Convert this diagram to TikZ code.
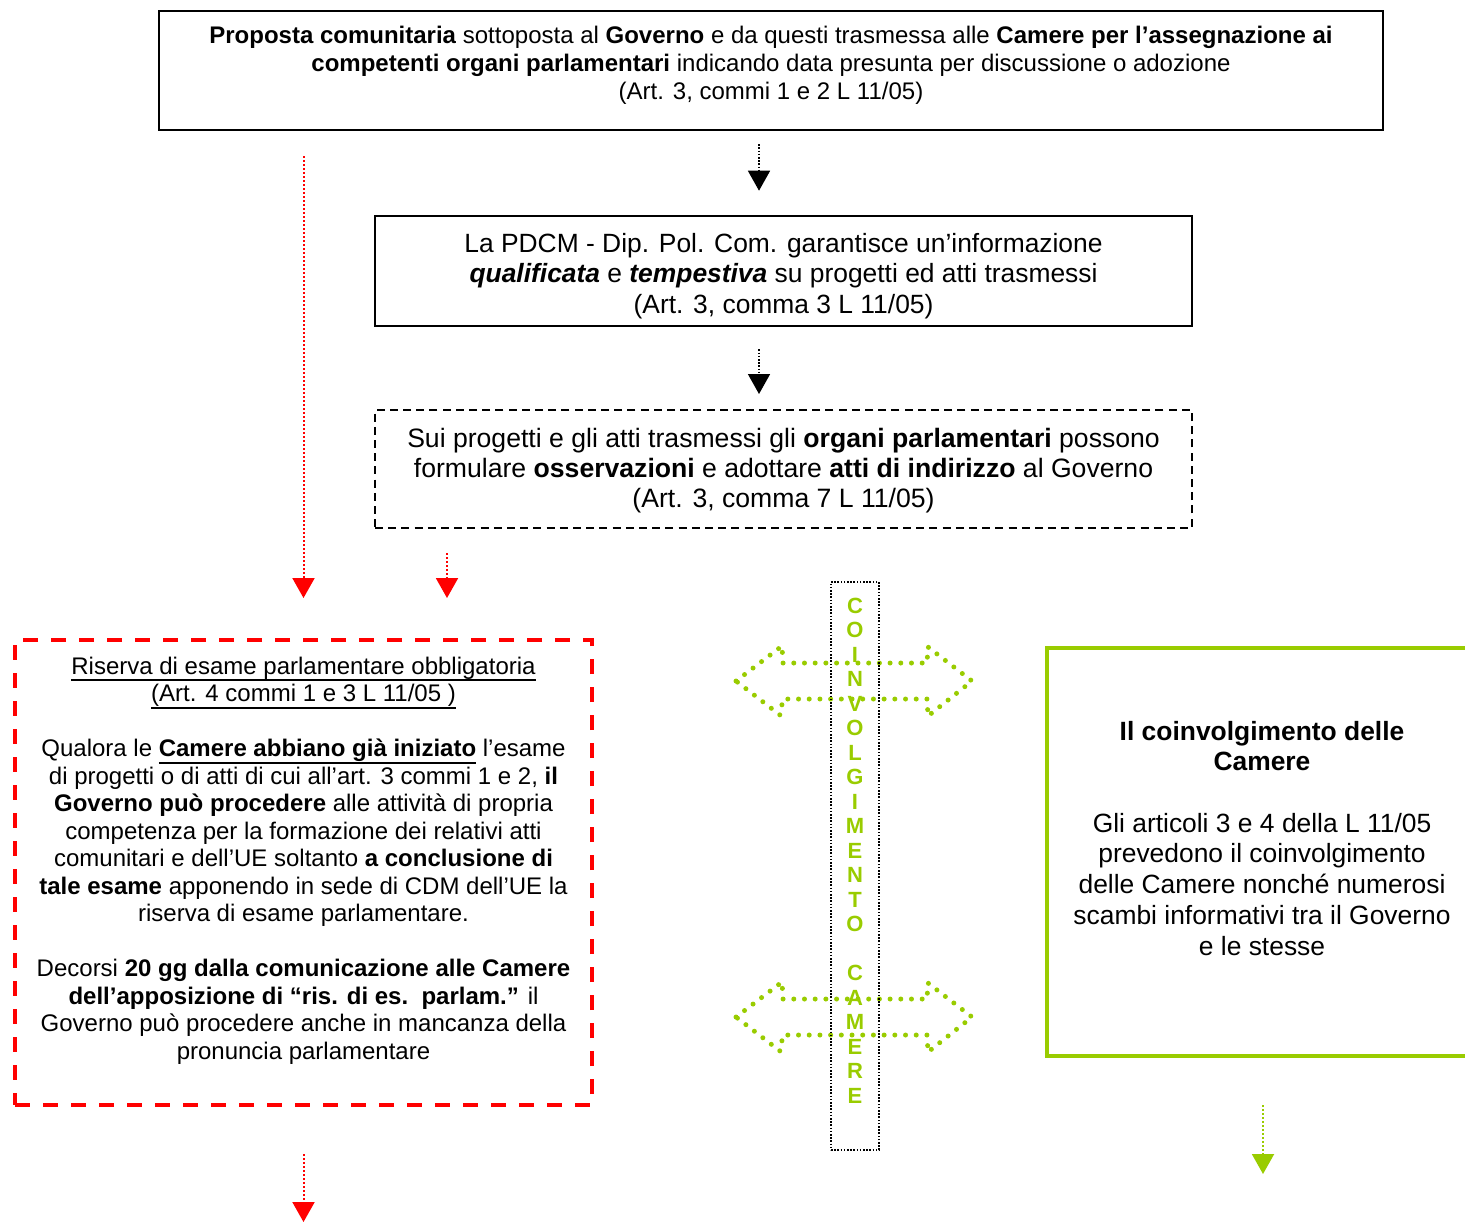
\documentclass[tikz,border=0pt]{standalone}
\usepackage{fontspec}
\setmainfont{Liberation Sans}
\usetikzlibrary{arrows.meta,positioning}
\definecolor{rosso}{HTML}{FF0000}
\definecolor{verde}{HTML}{99CC00}
% text pinned to the top of a fixed box: height, width, top pad, text
\newcommand{\padtext}[4]{\parbox[c][#1][t]{#2}{\centering\vspace*{#3}#4}}
% underline at a fixed depth
\newcommand{\sott}[1]{\leavevmode\setbox0\hbox{#1}\rlap{\rule[-3.4pt]{\wd0}{0.9pt}}\box0\relax}
\tikzset{
  box/.style={draw=black,line width=1.1pt,inner sep=0pt,align=center},
  dbox/.style={box,line width=1pt,dash pattern=on 4pt off 2.6pt},
  rbox/.style={box,draw=rosso,line width=2pt,dash pattern=on 7.5pt off 6.5pt},
  gbox/.style={box,draw=verde,line width=2pt},
  cbox/.style={box,line width=0.8pt,dash pattern=on 0.8pt off 0.8pt},
  darr/.style={-{Triangle[length=10pt,width=11pt]},line width=0.8pt,dash pattern=on 0.8pt off 0.8pt},
  rarr/.style={darr,draw=rosso,line width=1pt,dash pattern=on 1pt off 1pt},
  garr/.style={darr,draw=verde,line width=1pt,dash pattern=on 1pt off 1pt},
  gdots/.style={draw=verde,line width=2.5pt,line cap=round,dash pattern=on 0pt off 5.35pt},
  fA/.style={font=\fontsize{12}{14}\selectfont},
  fB/.style={font=\fontsize{13.2}{15.4}\selectfont},
  fC/.style={font=\fontsize{13.3}{15}\selectfont},
  fD/.style={font=\fontsize{12}{13.75}\selectfont},
}
\begin{document}
\begin{tikzpicture}[x=0.5pt,y=-0.5pt]
\useasboundingbox (0,0) rectangle (1465,1223);
% boxes
\node[box,fA] (prop) at (771,70.5) {\padtext{59.5pt}{612pt}{7.75pt}{%
  \textbf{Proposta comunitaria} sottoposta al \textbf{Governo} e da questi trasmessa alle \textbf{Camere per l’assegnazione ai}\\
  \textbf{competenti organi parlamentari} indicando data presunta per discussione o adozione\\
  (Art. 3, commi 1 e 2 L 11/05)}};
\node[box,fB,line width=1.3pt] (info) at (783.5,271) {\padtext{55pt}{408.5pt}{8.5pt}{%
  La PDCM - Dip. Pol. Com. garantisce un’informazione\\
  \textbf{\textit{qualificata}} e \textbf{\textit{tempestiva}} su progetti ed atti trasmessi\\
  (Art. 3, comma 3 L 11/05)}};
\node[dbox,fC] (osserv) at (783.5,469) {\padtext{59pt}{408.5pt}{9pt}{%
  Sui progetti e gli atti trasmessi gli \textbf{organi parlamentari} possono\\
  formulare \textbf{osservazioni} e adottare \textbf{atti di indirizzo} al Governo\\
  (Art. 3, comma 7 L 11/05)}};
\node[rbox,fD] (riserva) at (303.5,872.5) {\padtext{232.5pt}{288.5pt}{8.5pt}{%
  \sott{Riserva di esame parlamentare obbligatoria}\\
  \sott{(Art. 4 commi 1 e 3 L 11/05 )}\\[13.75pt]
  Qualora le \sott{\textbf{Camere abbiano già iniziato}} l’esame\\
  di progetti o di atti di cui all’art. 3 commi 1 e 2, \textbf{il}\\
  \textbf{Governo può procedere} alle attività di propria\\
  competenza per la formazione dei relativi atti\\
  comunitari e dell’UE soltanto \textbf{a conclusione di}\\
  \textbf{tale esame} apponendo in sede di CDM dell’UE la\\
  riserva di esame parlamentare.\\[13.75pt]
  Decorsi \textbf{20 gg dalla comunicazione alle Camere}\\
  \textbf{dell’apposizione di “ris. di es.\ \ parlam.”} il\\
  Governo può procedere anche in mancanza della\\
  pronuncia parlamentare}};
\node[gbox,fB] (coinv) at (1262,852) {\padtext{204pt}{215pt}{36.5pt}{%
  \textbf{Il coinvolgimento delle}\\
  \textbf{Camere}\\[15.2pt]
  Gli articoli 3 e 4 della L 11/05\\
  prevedono il coinvolgimento\\
  delle Camere nonché numerosi\\
  scambi informativi tra il Governo\\
  e le stesse}};
% green double arrows
\foreach \yy in {681,1017}
  \draw[gdots] (736,\yy) -- (782,\yy-35) -- (783,\yy-18) -- (927,\yy-18) -- (928,\yy-34)
    -- (972,\yy) -- (928,\yy+35) -- (927,\yy+18) -- (783,\yy+18) -- (780,\yy+34) -- cycle;
\node[cbox,font=\fontsize{11}{12.25}\selectfont\bfseries,text=verde] (camere) at (855,866)
  {\padtext{284pt}{24pt}{8pt}{C\\O\\I\\N\\V\\O\\L\\G\\I\\M\\E\\N\\T\\O\\[12.25pt]C\\A\\M\\E\\R\\E}};
% arrows
\coordinate (k1) at (759,0);
\coordinate (k2) at (447,0);
\coordinate (fine1) at (303.5,1222);
\coordinate (fine2) at (1263,1174);
\draw[darr,shorten <=6.5pt,shorten >=12pt] (prop.south -| k1) -- (info.north -| k1);
\draw[darr,shorten <=11pt,shorten >=7.5pt] (info.south -| k1) -- (osserv.north -| k1);
\draw[rarr,shorten <=12.5pt,shorten >=20pt] (prop.south -| riserva.north) -- (riserva.north);
\draw[rarr,shorten <=12pt,shorten >=20pt] (osserv.south -| k2) -- (riserva.north -| k2);
\draw[rarr,shorten <=23.5pt] (riserva.south) -- (fine1);
\draw[garr,shorten <=23.5pt] (coinv.south -| fine2) -- (fine2);
\end{tikzpicture}
\end{document}
